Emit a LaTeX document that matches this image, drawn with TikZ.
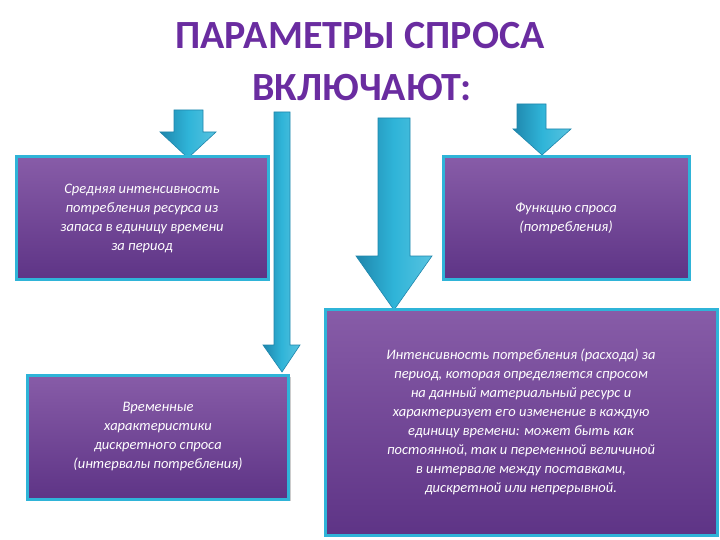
\documentclass[tikz,border=0pt]{standalone}
\usepackage{fontspec}
\setmainfont{Carlito}
\usetikzlibrary{shadows}
\definecolor{ptitle}{HTML}{6A2CA0}
\definecolor{pbox}{HTML}{7A4A9E}
\definecolor{pboxd}{HTML}{5E3486}
\definecolor{cy}{HTML}{2FB4D8}
\definecolor{cyd}{HTML}{1F86AC}
\tikzset{
  pbox/.style={draw=cy,line width=3pt,top color=pbox!90!white,bottom color=pboxd,
    text=white,align=center,font=\itshape\fontsize{14.5}{19}\selectfont,
    drop shadow={opacity=0.4,shadow xshift=2pt,shadow yshift=-2pt}},
  carrow/.style={draw=cyd,line width=0.6pt,left color=cyd,right color=cy!80!white,middle color=cy},
  ttl/.style={text=ptitle,font=\bfseries\fontsize{40}{40}\selectfont}
}
\begin{document}
\begin{tikzpicture}[x=1pt,y=-1pt]
\useasboundingbox[fill=white] (0,0) rectangle (720,540);
\node[ttl] (t1) at (360,36) {ПАРАМЕТРЫ СПРОСА};
\node[ttl] (t2) at (362,88) {ВКЛЮЧАЮТ:};
% arrows
\path[carrow] (174,110) -- (203,110) -- (203,132) -- (216,132) -- (188,158) -- (160,132) -- (174,132) -- cycle;
\path[carrow] (274,112) -- (290,112) -- (290,345) -- (300,345) -- (282,372) -- (263,345) -- (274,345) -- cycle;
\path[carrow] (378,118) -- (410,118) -- (410,256) -- (432,256) -- (394,310) -- (356,256) -- (378,256) -- cycle;
\path[carrow] (517,104) -- (546,104) -- (546,129) -- (571,129) -- (542,155) -- (513,129) -- (517,129) -- cycle;
% boxes
\node[pbox,minimum width=252pt,minimum height=122pt] (b1) at (142,218)
  {Средняя интенсивность\\потребления ресурса из\\запаса в единицу времени\\за период};
\node[pbox,minimum width=246pt,minimum height=122pt] (b2) at (566,218)
  {Функцию спроса\\(потребления)};
\node[pbox,minimum width=261pt,minimum height=124pt] (b3) at (158,437)
  {Временные\\характеристики\\дискретного спроса\\(интервалы потребления)};
\node[pbox,minimum width=392pt,minimum height=226pt] (b4) at (521,422)
  {Интенсивность потребления (расхода) за\\период, которая определяется спросом\\на данный материальный ресурс и\\характеризует его изменение в каждую\\единицу времени: может быть как\\постоянной, так и переменной величиной\\в интервале между поставками,\\дискретной или непрерывной.};
\end{tikzpicture}
\end{document}
